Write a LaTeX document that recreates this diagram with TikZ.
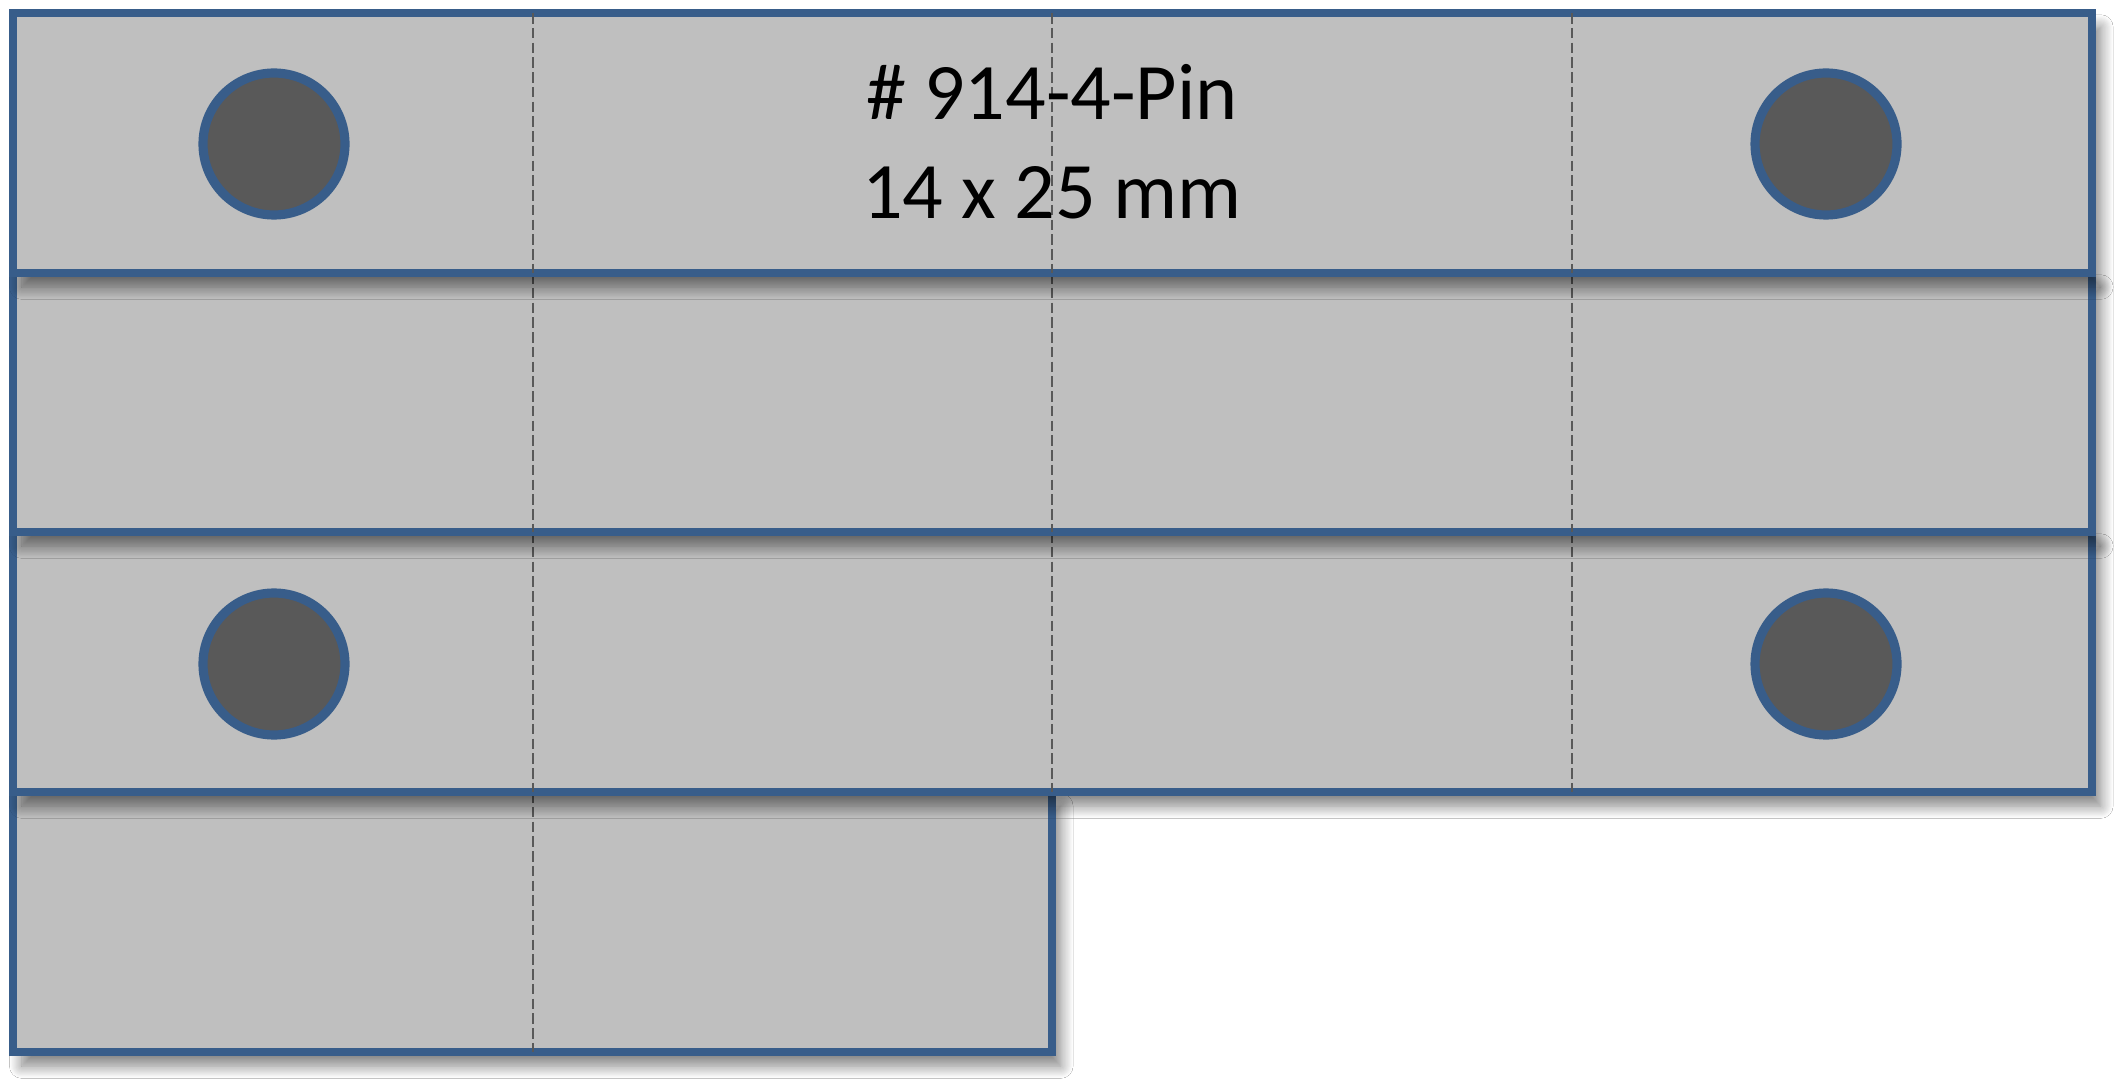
\documentclass[tikz,border=0pt]{standalone}
\usepackage{fontspec}
\setmainfont{Carlito}
\usetikzlibrary{shadows.blur}
\definecolor{pinblue}{HTML}{385D8A}
\definecolor{stripgray}{HTML}{BFBFBF}
\definecolor{holegray}{HTML}{595959}

\begin{document}
\begin{tikzpicture}[
  stripbox/.style={fill=stripgray,draw=pinblue,line width=2.3pt,
    blur shadow={shadow xshift=2.5pt,shadow yshift=-4pt,shadow blur radius=3.5pt,
      shadow blur steps=12,shadow opacity=50}},
  cutline/.style={draw=holegray,line width=0.7pt,dash pattern=on 3pt off 1.2pt},
  pinhole/.style={fill=holegray,draw=pinblue,line width=2.6pt},
  pintext/.style={font=\fontsize{22.8}{28}\selectfont,anchor=base,inner sep=0pt}]
  \useasboundingbox[fill=white] (0,0) rectangle (21.25,-10.86);
  \filldraw[stripbox] (0.13,-7.92) rectangle (10.52,-10.52);
  \draw[cutline] (5.33,-7.92) -- (5.33,-10.52);
  \filldraw[stripbox] (0.13,-5.32) rectangle (20.92,-7.92);
  \foreach \x in {5.33,10.52,15.72}
    \draw[cutline] (\x,-5.32) -- (\x,-7.92);
  \draw[pinhole] (2.74,-6.64) circle [radius=0.71];
  \draw[pinhole] (18.26,-6.64) circle [radius=0.71];
  \filldraw[stripbox] (0.13,-2.73) rectangle (20.92,-5.32);
  \foreach \x in {5.33,10.52,15.72}
    \draw[cutline] (\x,-2.73) -- (\x,-5.32);
  \filldraw[stripbox] (0.13,-0.13) rectangle (20.92,-2.73);
  \foreach \x in {5.33,10.52,15.72}
    \draw[cutline] (\x,-0.13) -- (\x,-2.73);
  \draw[pinhole] (2.74,-1.44) circle [radius=0.71];
  \draw[pinhole] (18.26,-1.44) circle [radius=0.71];
  \node[pintext] (partno) at (10.52,-1.20) {\# 914-4-Pin};
  \node[pintext] (partsize) at (10.52,-2.19) {14 x 25 mm};
\end{tikzpicture}
\end{document}
